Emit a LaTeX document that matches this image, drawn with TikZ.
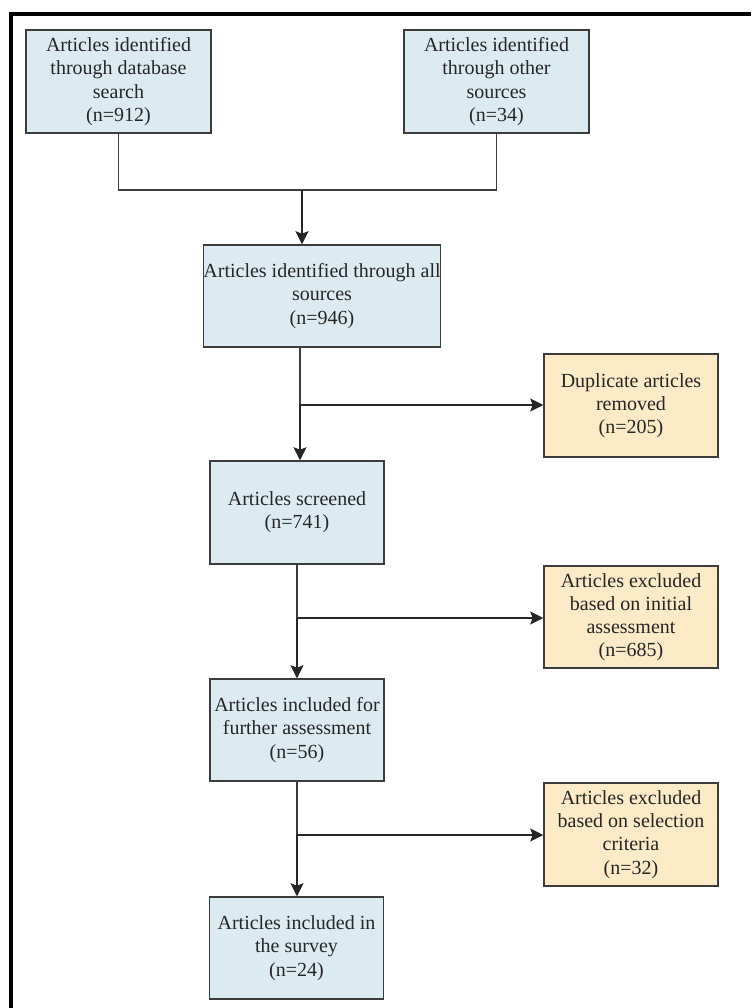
\documentclass[tikz,border=0pt]{standalone}
\usepackage{fontspec}
\setmainfont{Liberation Serif}
\usetikzlibrary{arrows.meta}
\definecolor{myblue}{HTML}{DCEBF2}
\definecolor{myorange}{HTML}{FCEBC6}
\definecolor{myline}{HTML}{3C3C3C}

\begin{document}
\begin{tikzpicture}[x=0.5pt,y=-0.5pt]
\useasboundingbox (0,0) rectangle (751,1008);
\draw[line width=2pt] (10.5,1008) -- (10.5,13.5) -- (751,13.5);
\tikzset{BoxStyle/.style ={draw=myline, line width=0.75pt, align=center, inner sep=0pt,
  text=black!85, font=\fontsize{10}{11.6}\selectfont, minimum height=51.5pt}}
\tikzset{BlueBox/.style ={BoxStyle, fill=myblue, minimum width=87pt}}
\tikzset{OrangeBox/.style ={BoxStyle, fill=myorange, minimum width=87pt}}
\node[BlueBox, minimum width=92.5pt] (db) at (118.5,81.5) {Articles identified\\through database\\search\\(n=912)};
\node[BlueBox, minimum width=92.5pt] (other) at (496.5,81.5) {Articles identified\\through other\\sources\\(n=34)};
\node[BlueBox, minimum width=114pt, minimum height=51pt] (all) at (322,296) {Articles identified through all\\sources\\(n=946)};
\node[BlueBox] (screened) at (297,512.5) {Articles screened\\(n=741)};
\node[BlueBox, minimum height=51pt] (further) at (297,730) {Articles included for\\further assessment\\(n=56)};
\node[BlueBox, minimum height=51pt] (survey) at (296.5,948) {Articles included in\\the survey\\(n=24)};
\node[OrangeBox] (dup) at (631,405.5) {Duplicate articles\\removed\\(n=205)};
\node[OrangeBox, minimum height=51pt] (exinit) at (631,617) {Articles excluded\\based on initial\\assessment\\(n=685)};
\node[OrangeBox] (exsel) at (631,834.5) {Articles excluded\\based on selection\\criteria\\(n=32)};
\coordinate (join) at (302,190);
\coordinate (b1) at (300,405);
\coordinate (b2) at (297,618);
\coordinate (b3) at (297,835);
\tikzset{EdgeStyle/.style ={draw=myline, line width=0.8pt}}
\tikzset{ArrowStyle/.style ={EdgeStyle, -{Stealth[length=6.5pt,width=6.5pt,inset=1.2pt]}, draw=black!85}}
\draw[EdgeStyle] (db.south) |- (join) -| (other.south);
\draw[ArrowStyle] (join) -- (join |- all.north);
\draw[EdgeStyle] (all.south -| b1) -- (b1);
\draw[ArrowStyle] (b1) -- (b1 |- screened.north);
\draw[ArrowStyle] (b1) -- (dup.west |- b1);
\draw[EdgeStyle] (screened.south -| b2) -- (b2);
\draw[ArrowStyle] (b2) -- (b2 |- further.north);
\draw[ArrowStyle] (b2) -- (exinit.west |- b2);
\draw[EdgeStyle] (further.south -| b3) -- (b3);
\draw[ArrowStyle] (b3) -- (b3 |- survey.north);
\draw[ArrowStyle] (b3) -- (exsel.west |- b3);
\end{tikzpicture}
\end{document}
